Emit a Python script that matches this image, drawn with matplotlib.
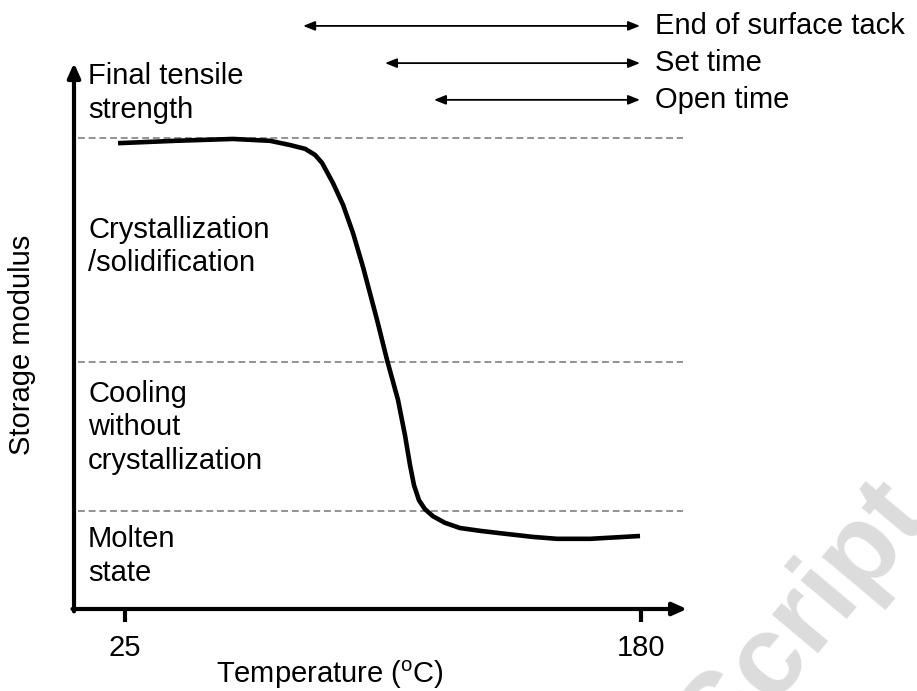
import matplotlib
matplotlib.use('Agg')
import matplotlib.pyplot as plt

plt.rcParams['font.family'] = ['Liberation Sans', 'DejaVu Sans']
plt.rcParams['mathtext.fontset'] = 'custom'
plt.rcParams['mathtext.rm'] = 'Liberation Sans'
plt.rcParams['font.size'] = 21

# storage modulus curve (arbitrary units, 0-100) vs temperature
temps = [22.9, 40.0, 57.4, 68.6, 74.6, 79.1, 82.1, 84.2, 87.5, 90.5, 93.5,
         96.5, 100.7, 103.7, 107.0, 109.1, 110.6, 111.8, 113.3, 115.1, 117.5,
         121.1, 125.6, 131.6, 137.6, 147.6, 154.8, 164.7, 179.7]
modulus = [98.9, 99.4, 99.8, 99.4, 98.5, 97.7, 96.4, 94.7, 90.4, 85.8, 79.8,
           72.6, 61.4, 52.9, 44.4, 36.9, 30.6, 26.3, 23.1, 21.2, 19.7,
           18.3, 17.2, 16.6, 16.1, 15.3, 14.9, 14.9, 15.5]

temp_ticks = [25, 180]
tick_labels = ['25', '180']

# regime boundaries (dashed lines)
bounds = [100.0, 52.4, 20.8]
region_labels = ['Final tensile\nstrength', 'Crystallization\n/solidification',
                 'Cooling\nwithout\ncrystallization', 'Molten\nstate']
region_y = [109.6, 77.0, 38.6, 11.2]

# time windows shown by double arrows at the top
windows = ['End of surface tack', 'Set time', 'Open time']
window_start = [78.5, 103.1, 117.8]
window_end = [179.7, 179.7, 179.7]
window_y = [123.8, 115.9, 108.1]

fig = plt.figure(figsize=(9.17, 6.91), dpi=100)
ax = fig.add_axes([0, 0, 1, 1])
ax.set_xlim(-12.55, 262.9)
ax.set_ylim(-17.41, 129.3)
ax.axis('off')

# watermark
ax.text(229.3, -2.3, 'Script', fontsize=82, fontweight='bold', color='#dcdcdc',
        rotation=50, ha='center', va='center', zorder=0)

# axes with arrow heads
x0, y0 = 9.68, 0.0
ax.annotate('', xy=(x0, 115.9), xytext=(x0, y0 - 0.5),
            arrowprops=dict(arrowstyle='-|>,head_length=0.85,head_width=0.38',
                            lw=3, color='black', shrinkA=0, shrinkB=0,
                            mutation_scale=10))
ax.annotate('', xy=(193.8, y0), xytext=(x0 - 0.45, y0),
            arrowprops=dict(arrowstyle='-|>,head_length=0.85,head_width=0.38',
                            lw=3, color='black', shrinkA=0, shrinkB=0,
                            mutation_scale=10))
for t, lab in zip(temp_ticks, tick_labels):
    ax.plot([t, t], [y0, -2.76], color='black', lw=3, solid_capstyle='butt')
    ax.text(t, -8.3, lab, ha='center', va='center')

for b in bounds:
    ax.plot([10.9, 192.6], [b, b], color='#757575', lw=1.1,
            linestyle=(0, (4.5, 2.5)))

ax.plot(temps, modulus, color='black', lw=3.3, solid_joinstyle='round',
        solid_capstyle='butt')

for lab, yy in zip(region_labels, region_y):
    ax.text(13.9, yy, lab, ha='left', va='center', linespacing=1.25)

for lab, xs, xe, yy in zip(windows, window_start, window_end, window_y):
    ax.annotate('', xy=(xe, yy), xytext=(xs, yy),
                arrowprops=dict(arrowstyle='<|-|>,head_length=0.7,head_width=0.28',
                                lw=1.3, color='black', shrinkA=0, shrinkB=0,
                                mutation_scale=10))
    ax.text(xe + 4.5, yy, lab, ha='left', va='center')

ax.text(-5.9, 56.1, 'Storage modulus', rotation=90, ha='center', va='center')
ax.text(86.6, -14.0, r'Temperature ($^{\mathrm{o}}$C)', ha='center', va='center')

fig.savefig('out.png', dpi=100)
